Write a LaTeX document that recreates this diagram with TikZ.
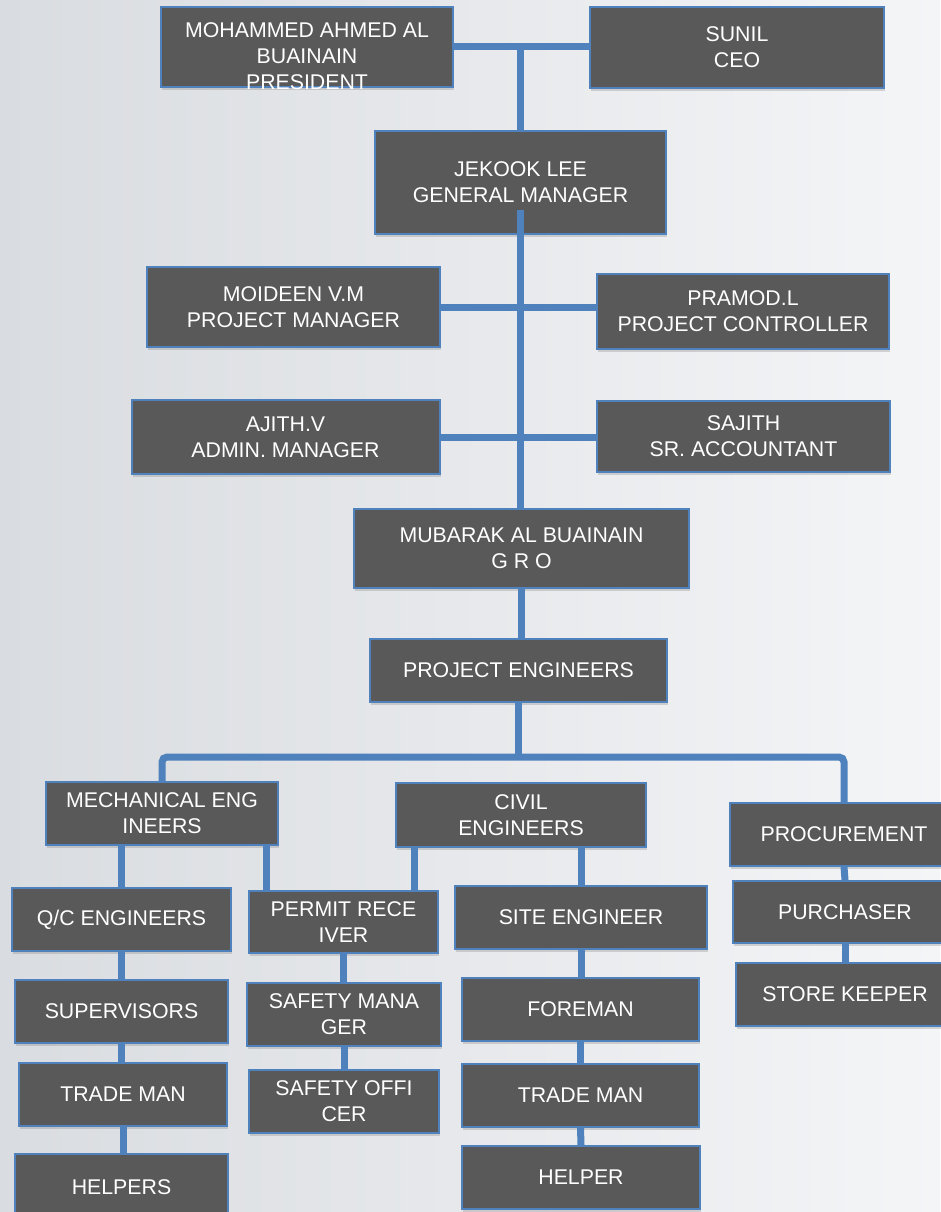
\documentclass[tikz,border=0pt]{standalone}
\usepackage{fontspec}
\setmainfont{Liberation Sans}
\usetikzlibrary{shadows}
\definecolor{boxgray}{HTML}{595959}
\definecolor{orgblue}{HTML}{4F81BD}
\definecolor{bgdark}{HTML}{D9DCE0}
\definecolor{bgmid}{HTML}{EEEFF1}
\definecolor{bglight}{HTML}{F4F5F7}
\newcommand\boxfont{\fontsize{21.3}{26}\selectfont}

\begin{document}
\begin{tikzpicture}[x=1pt, y=-1pt,
    main/.style = {draw=orgblue, line width=2pt, fill=boxgray, text=white, align=center, inner sep=0pt, font=\boxfont,
        drop shadow={shadow xshift=1pt, shadow yshift=-3pt, opacity=.3}},
    caption/.style = {text=white, align=center, font=\boxfont},
    wire/.style = {draw=orgblue, line width=7pt}]
    \fill[left color=bgdark, middle color=bgmid, right color=bglight] (0,0) rectangle (940,1212);
    \useasboundingbox (0,0) rectangle (940,1212);
    % top
    \node[main, minimum width=292pt, minimum height=80pt] (pres) at (307,47) {};
    \node[caption] (presname) at ([yshift=-9pt]pres.center) {MOHAMMED AHMED AL\\BUAINAIN\\PRESIDENT};
    \node[main, minimum width=294pt, minimum height=81pt] (ceo) at (737,47.5) {SUNIL\\CEO};
    \node[main, minimum width=291pt, minimum height=103pt] (gm) at (520.5,182.5) {JEKOOK LEE\\GENERAL MANAGER};
    \node[main, minimum width=293pt, minimum height=80pt] (pm) at (293.5,307) {MOIDEEN V.M\\PROJECT MANAGER};
    \node[main, minimum width=292pt, minimum height=75pt] (pc) at (743,311.5) {PRAMOD.L\\PROJECT CONTROLLER};
    \node[main, minimum width=308pt, minimum height=74pt] (adm) at (285.5,437) {AJITH.V\\ADMIN. MANAGER};
    \node[main, minimum width=293pt, minimum height=71pt] (acc) at (743.5,436.5) {SAJITH\\SR. ACCOUNTANT};
    \node[main, minimum width=335pt, minimum height=79pt] (gro) at (521.5,548.5) {MUBARAK AL BUAINAIN\\G R O};
    \node[main, minimum width=297pt, minimum height=63pt] (pe) at (518.5,670.5) {PROJECT ENGINEERS};
    % departments
    \node[main, minimum width=232pt, minimum height=63pt] (mech) at (162,813.5) {MECHANICAL ENG\\INEERS};
    \node[main, minimum width=250pt, minimum height=64pt] (civil) at (521,815) {CIVIL\\ENGINEERS};
    \node[main, minimum width=228pt, minimum height=63pt] (proc) at (844,834.5) {PROCUREMENT};
    \node[main, minimum width=219pt, minimum height=63pt] (qc) at (121.5,919.5) {Q/C ENGINEERS};
    \node[main, minimum width=189pt, minimum height=62pt] (permit) at (343.5,922) {PERMIT RECE\\IVER};
    \node[main, minimum width=252pt, minimum height=63pt] (site) at (581,917.5) {SITE ENGINEER};
    \node[main, minimum width=224pt, minimum height=62pt] (purch) at (845,912) {PURCHASER};
    \node[main, minimum width=218pt, minimum height=63pt] (store) at (845,994.5) {STORE KEEPER};
    \node[main, minimum width=213pt, minimum height=63pt] (sup) at (121.5,1011.5) {SUPERVISORS};
    \node[main, minimum width=208pt, minimum height=63pt] (trade1) at (123,1094.5) {TRADE MAN};
    \node[main, minimum width=213pt, minimum height=66pt] (helpers) at (121.5,1187) {HELPERS};
    \node[main, minimum width=194pt, minimum height=63pt] (safm) at (344,1014.5) {SAFETY MANA\\GER};
    \node[main, minimum width=190pt, minimum height=63pt] (safo) at (344,1101.5) {SAFETY OFFI\\CER};
    \node[main, minimum width=237pt, minimum height=63pt] (fore) at (580.5,1009.5) {FOREMAN};
    \node[main, minimum width=237pt, minimum height=63pt] (trade2) at (580.5,1095.5) {TRADE MAN};
    \node[main, minimum width=238pt, minimum height=63pt] (helper) at (581,1177.5) {HELPER};
    \coordinate (fork) at (521,757);
    % connectors
    \draw[wire] (pres.east) -- (pres.east -| ceo.west);
    \draw[wire] (gm.north) -- (gm.north |- pres.east);
    \draw[wire] ([yshift=-27.5pt]gm.center) -- (gm.center |- gro.north);
    \draw[wire] (pm.east) -- (pm.east -| pc.west);
    \draw[wire] (adm.east) -- (adm.east -| acc.west);
    \draw[wire] (gro.south) -- (gro.south |- pe.north);
    \draw[wire] (pe.south) -- (pe.south |- fork);
    \draw[wire, rounded corners=5pt] (mech.north) |- (fork) -| (proc.north);
    \draw[wire] (qc.north) -- (qc.north |- mech.south);
    \draw[wire] ([xshift=-13pt]mech.south east) -- ([xshift=-13pt]mech.south east |- permit.north);
    \draw[wire] ([xshift=19pt]civil.south west) -- ([xshift=19pt]civil.south west |- permit.north);
    \draw[wire] (site.north) -- (site.north |- civil.south);
    \draw[wire] (proc.south) -- (purch.north);
    \draw[wire] (purch.south) -- (store.north);
    \draw[wire] (qc.south) -- (sup.north);
    \draw[wire] (sup.south) -- (sup.south |- trade1.north);
    \draw[wire] (trade1.south) -- (trade1.south |- helpers.north);
    \draw[wire] (permit.south) -- (permit.south |- safm.north);
    \draw[wire] (safm.south) -- (safo.north);
    \draw[wire] (site.south) -- (site.south |- fore.north);
    \draw[wire] (fore.south) -- (trade2.north);
    \draw[wire] (trade2.south) -- (helper.north);
\end{tikzpicture}
\end{document}
